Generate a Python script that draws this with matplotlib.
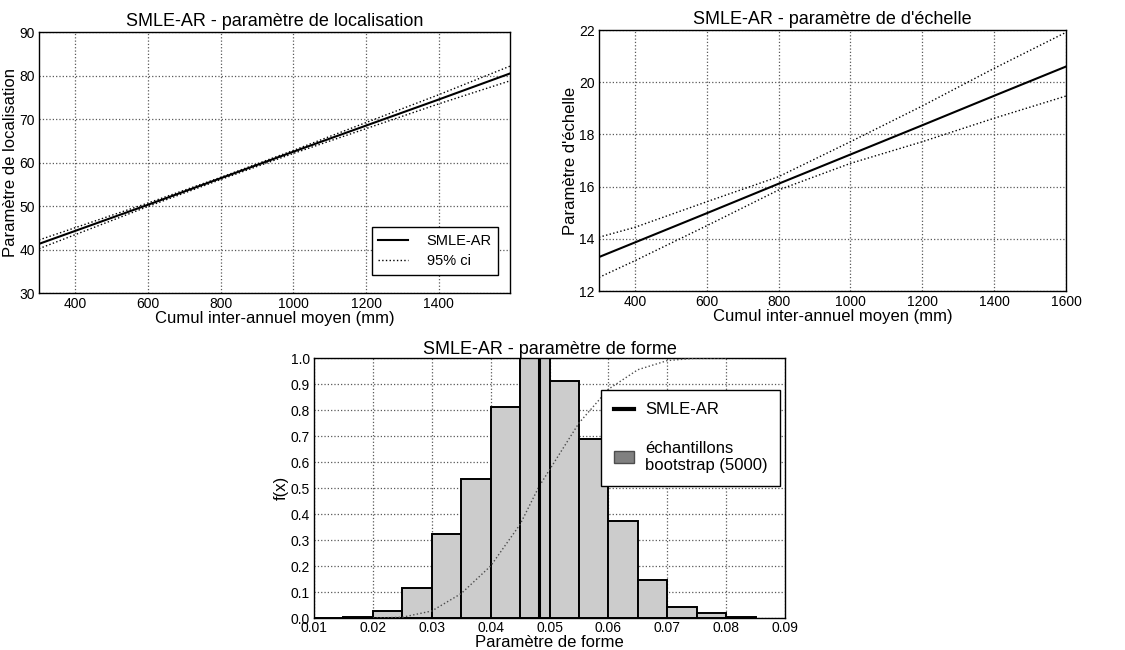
import numpy as np
import matplotlib
matplotlib.use("Agg")
import matplotlib.pyplot as plt
from matplotlib.patches import Patch
from matplotlib.lines import Line2D

plt.rcParams['font.family'] = ['Liberation Sans', 'DejaVu Sans']

# localisation parameter vs cumul
cumul_loc = [300, 600, 800, 1000, 1200, 1400, 1600]
loc_fit = [41.3, 50.3, 56.4, 62.5, 68.5, 74.5, 80.6]
loc_up = [42.2, 50.7, 56.6, 62.8, 69.2, 75.6, 82.3]
loc_low = [40.2, 49.9, 56.1, 62.1, 67.8, 73.5, 78.9]

# scale parameter vs cumul
cumul_sc = [300, 400, 600, 800, 1000, 1200, 1400, 1600]
sc_fit = [13.3, 13.86, 14.98, 16.11, 17.23, 18.35, 19.48, 20.6]
sc_up = [14.06, 14.44, 15.42, 16.38, 17.72, 19.09, 20.53, 21.91]
sc_low = [12.52, 13.16, 14.5, 15.87, 16.89, 17.72, 18.62, 19.47]

# shape parameter: bootstrap histogram (normalised) + empirical cdf
bin_edges = [0.010, 0.015, 0.020, 0.025, 0.030, 0.035, 0.040, 0.045,
             0.050, 0.055, 0.060, 0.065, 0.070, 0.075, 0.080, 0.085]
bin_heights = [0.001, 0.005, 0.027, 0.115, 0.322, 0.535, 0.81, 1.0,
               0.912, 0.69, 0.372, 0.147, 0.043, 0.02, 0.003]
shape_fit = 0.0482
cdf_x = [0.020, 0.025, 0.030, 0.035, 0.040, 0.045, 0.0482, 0.050,
         0.055, 0.060, 0.065, 0.070, 0.075, 0.080]
cdf_y = [0.0, 0.003, 0.027, 0.094, 0.20, 0.36, 0.505, 0.57,
         0.75, 0.88, 0.955, 0.99, 1.0, 1.0]

TICK_FS = 10
LABEL_FS = 12
TITLE_FS = 13

fig = plt.figure(figsize=(11.25, 6.5), dpi=100)
ax1 = fig.add_axes([0.0347, 0.5492, 0.4187, 0.4015])
ax2 = fig.add_axes([0.5324, 0.5523, 0.4151, 0.4015])
ax3 = fig.add_axes([0.2791, 0.0492, 0.4187, 0.4000])


def style(ax):
    ax.grid(True, linestyle=':', color='0.35', linewidth=0.9)
    ax.set_axisbelow(True)
    ax.tick_params(direction='in', length=0, labelsize=TICK_FS, pad=3)
    for s in ax.spines.values():
        s.set_linewidth(1.0)
        s.set_color('black')


# top left
ax1.plot(cumul_loc, loc_fit, color='black', lw=1.5, label='SMLE-AR')
ax1.plot(cumul_loc, loc_up, color='black', lw=1.0, ls=':', label='95% ci')
ax1.plot(cumul_loc, loc_low, color='black', lw=1.0, ls=':')
ax1.set_xlim(300, 1596)
ax1.set_ylim(30, 90)
ax1.set_xticks([400, 600, 800, 1000, 1200, 1400])
ax1.set_yticks(range(30, 91, 10))
style(ax1)
ax1.set_title('SMLE-AR - paramètre de localisation', fontsize=TITLE_FS, pad=4)
ax1.set_xlabel('Cumul inter-annuel moyen (mm)', fontsize=LABEL_FS, labelpad=0)
ax1.set_ylabel('Paramètre de localisation', fontsize=LABEL_FS, labelpad=1)
leg = ax1.legend(loc='lower right', bbox_to_anchor=(0.975, 0.069),
                 borderaxespad=0, fontsize=10.5,
                 fancybox=False, edgecolor='black', framealpha=1,
                 borderpad=0.45, handlelength=2.0, handletextpad=1.3,
                 labelspacing=0.45)
leg.get_frame().set_linewidth(1.0)

# top right
ax2.plot(cumul_sc, sc_fit, color='black', lw=1.5)
ax2.plot(cumul_sc, sc_up, color='black', lw=1.0, ls=':')
ax2.plot(cumul_sc, sc_low, color='black', lw=1.0, ls=':')
ax2.set_xlim(300, 1600)
ax2.set_ylim(12, 22)
ax2.set_xticks([400, 600, 800, 1000, 1200, 1400, 1600])
ax2.set_yticks(range(12, 23, 2))
style(ax2)
ax2.set_title("SMLE-AR - paramètre de d'échelle", fontsize=TITLE_FS, pad=4)
ax2.set_xlabel('Cumul inter-annuel moyen (mm)', fontsize=LABEL_FS, labelpad=0)
ax2.set_ylabel("Paramètre d'échelle", fontsize=LABEL_FS, labelpad=1)

# bottom
widths = np.diff(bin_edges)
ax3.bar(bin_edges[:-1], bin_heights, width=widths, align='edge',
        color='0.8', edgecolor='black', linewidth=1.4, zorder=2)
ax3.plot(cdf_x, cdf_y, color='0.3', lw=1.0, ls=':', zorder=3)
ax3.vlines(shape_fit, 0, 1, color='black', lw=2.2, zorder=4)
ax3.set_xlim(0.01, 0.09)
ax3.set_ylim(0, 1)
ax3.set_xticks(np.arange(0.01, 0.0901, 0.01))
ax3.set_xticklabels(['0.01', '0.02', '0.03', '0.04', '0.05', '0.06',
                     '0.07', '0.08', '0.09'])
ax3.set_yticks(np.arange(0, 1.01, 0.1))
ax3.set_yticklabels(['%.1f' % v for v in np.arange(0, 1.01, 0.1)])
style(ax3)
ax3.tick_params(axis='x', pad=2)
ax3.set_title('SMLE-AR - paramètre de forme', fontsize=TITLE_FS, pad=1)
ax3.set_xlabel('Paramètre de forme', fontsize=LABEL_FS, labelpad=0)
ax3.set_ylabel('f(x)', fontsize=LABEL_FS, labelpad=1)
handles = [Line2D([0], [0], color='black', lw=3),
           Patch(facecolor='0.5', edgecolor='0.3')]
leg3 = ax3.legend(handles, ['SMLE-AR', 'échantillons\nbootstrap (5000)'],
                  loc='upper right', bbox_to_anchor=(0.99, 0.877),
                  borderaxespad=0, fontsize=12, fancybox=False,
                  edgecolor='black', framealpha=1, borderpad=0.75,
                  handlelength=1.2, handletextpad=0.7, labelspacing=1.4)
leg3.get_frame().set_linewidth(1.0)

fig.savefig('out.png', dpi=100)
